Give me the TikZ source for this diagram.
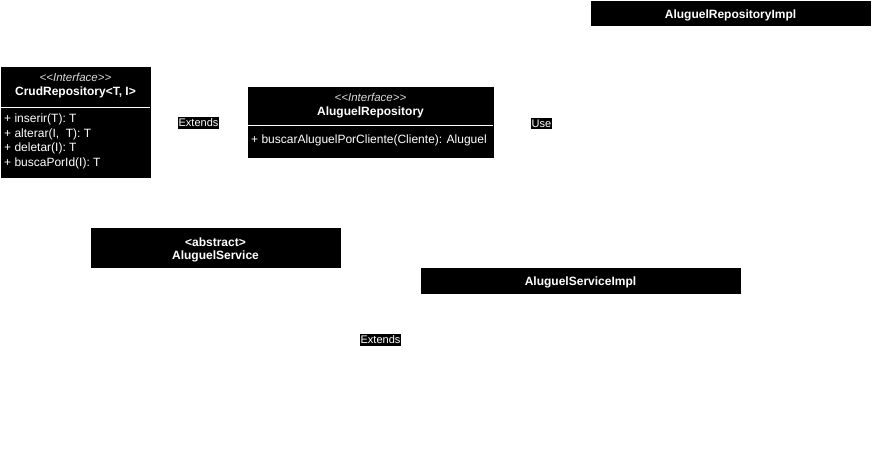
\documentclass[tikz,border=0pt]{standalone}
\usepackage{fontspec}
\setmainfont{Liberation Sans}
\usetikzlibrary{arrows.meta}
\pgfdeclarelayer{bg}
\pgfsetlayers{bg,main}
\tikzset{
  umlbox/.style={draw=black, fill=black, line width=1pt, inner sep=0pt, outer sep=0pt},
  ttl/.style={text=white, font=\fontsize{12}{14}\selectfont\bfseries, inner sep=0pt},
  stereo/.style={text=white!85!black, font=\fontsize{11.5}{13}\selectfont\itshape, inner sep=0pt},
  member/.style={text=white, font=\fontsize{12}{14}\selectfont, inner sep=0pt, anchor=west},
  divider/.style={draw=white, line width=1pt},
  elabel/.style={fill=black, text=white, font=\fontsize{11}{12}\selectfont, inner xsep=0.5pt, inner ysep=1.5pt},
  conn/.style={draw=white, line width=1pt}
}
\begin{document}
\begin{tikzpicture}[x=1pt,y=-1pt]
\useasboundingbox (0,0) rectangle (872,460);
% CrudRepository
\node[umlbox, minimum width=149, minimum height=110] (crud) at (75.5,122) {};
\node[stereo] (crudst) at (75.5,77.5) {{<}{<}Interface{>}{>}};
\node[ttl] (crudnm) at (75.5,92.5) {CrudRepository<T, I>};
\draw[divider] (1,107) -- (150,107);
\node[member] (m1) at (4,119.5) {+ inserir(T): T};
\node[member] (m2) at (4,134) {+ alterar(I,\ \ T): T};
\node[member] (m3) at (4,148.5) {+ deletar(I): T};
\node[member] (m4) at (4,163) {+ buscaPorId(I): T};
% AluguelRepository
\node[umlbox, minimum width=245, minimum height=70] (arep) at (370.5,122) {};
\node[stereo] (arepst) at (370.5,97.5) {{<}{<}Interface{>}{>}};
\node[ttl] (arepnm) at (370.5,112) {AluguelRepository};
\draw[divider] (248,125) -- (493,125);
\node[member] (am1) at (251,140.5) {+ buscarAluguelPorCliente(Cliente): Aluguel};
% AluguelRepositoryImpl
\node[umlbox, minimum width=279, minimum height=24] (arepimpl) at (730.5,14) {};
\node[ttl] (arepimplnm) at (730.5,15.5) {AluguelRepositoryImpl};
% AluguelService
\node[umlbox, minimum width=249, minimum height=39] (aserv) at (215.5,247.5) {};
\node[ttl] (aservst) at (215.5,242) {<abstract>};
\node[ttl] (aservnm) at (215.5,256) {AluguelService};
% AluguelServiceImpl
\node[umlbox, minimum width=319, minimum height=25] (aservimpl) at (580.5,280.5) {};
\node[ttl] (aservimplnm) at (580.5,282) {AluguelServiceImpl};
% connectors (drawn in the page colour, as in the reference)
\coordinate (c1) at (541,122.5);
\coordinate (c2) at (730,122.5);
\coordinate (c3) at (580.5,339);
\coordinate (c4) at (215.5,339);
\begin{pgfonlayer}{bg}
\draw[conn] (arep.west |- 0,122.5) -- (crud.east |- 0,122.5);
\draw[conn] (arep.east |- 0,122.5) -- (c1) -- (c2) -- (arepimpl.south -| c2);
\draw[conn] (aservimpl.south) -- (c3) -- (c4) -- (aserv.south);
\end{pgfonlayer}
\node[elabel] (lext1) at (198.5,123) {Extends};
\node[elabel] (luse) at (541.5,123.5) {Use};
\node[elabel] (lext2) at (380.5,340) {Extends};
\end{tikzpicture}
\end{document}
